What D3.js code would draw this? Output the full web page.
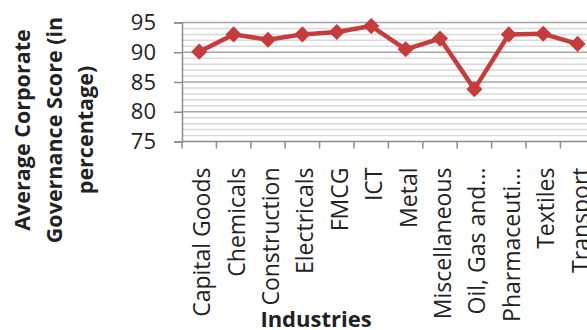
<!DOCTYPE html>
<html>
  <head>
    <meta charset="utf-8">
    <title>Corporate Governance Score by Industry</title>
    <script src="https://d3js.org/d3.v7.min.js"></script>
    <style>
      body { margin: 0; background: #fff; }
      text { font-family: "Open Sans", sans-serif; fill: #222; }
    </style>
  </head>
  <body>
    <svg id="chart" width="587" height="330"></svg>
    <script>
// chart data
var industries = ["Capital Goods", "Chemicals", "Construction", "Electricals", "FMCG", "ICT",
  "Metal", "Miscellaneous", "Oil, Gas and...", "Pharmaceuti...", "Textiles", "Transport"];
var scores = [90.1, 93.0, 92.1, 93.0, 93.4, 94.4, 90.5, 92.3, 83.8, 93.0, 93.1, 91.4];
var majorTicks = [75, 80, 85, 90, 95];
var minorTicks = [76, 77, 78, 79, 81, 82, 83, 84, 86, 87, 88, 89, 91, 92, 93, 94];
var yTitle = ["Average Corporate", "Governance Score (in", "percentage)"];
var xTitle = "Industries";

var svg = d3.select("#chart");

// plot area (runs past the right edge, like the original crop)
var plotLeft = 182, plotTop = 22.5, plotBottom = 141.5, step = 34.4;

var x = d3.scaleBand()
  .domain(industries)
  .range([plotLeft, plotLeft + step * industries.length])
  .padding(0);

var y = d3.scaleLinear()
  .domain([75, 95])
  .range([plotBottom, plotTop]);

var plotRight = x.range()[1];

// minor gridlines
svg.append("g")
  .selectAll("line")
  .data(minorTicks)
  .enter().append("line")
  .attr("x1", plotLeft).attr("x2", plotRight)
  .attr("y1", d => y(d)).attr("y2", d => y(d))
  .attr("stroke", "#d9d9d9")
  .attr("stroke-width", 1.5);

// major gridlines
svg.append("g")
  .selectAll("line")
  .data(majorTicks.slice(1))
  .enter().append("line")
  .attr("x1", plotLeft).attr("x2", plotRight)
  .attr("y1", d => y(d)).attr("y2", d => y(d))
  .attr("stroke", "#a6a6a6")
  .attr("stroke-width", 1.5);

// y axis
var yAxis = svg.append("g")
  .attr("transform", "translate(" + plotLeft + ",0)")
  .call(d3.axisLeft(y).tickValues(majorTicks).tickSize(8).tickPadding(18));
yAxis.select(".domain").attr("stroke", "#8c8c8c").attr("stroke-width", 1.5);
yAxis.selectAll(".tick line").attr("stroke", "#8c8c8c").attr("stroke-width", 1.5);
yAxis.selectAll("text")
  .style("font-family", "'Open Sans', sans-serif")
  .style("font-size", "22px")
  .attr("fill", "#333");

// x axis: ticks between categories
var xAxis = svg.append("g")
  .attr("transform", "translate(0," + plotBottom + ")");
xAxis.append("line")
  .attr("x1", plotLeft).attr("x2", plotRight)
  .attr("stroke", "#8c8c8c").attr("stroke-width", 1.5);
xAxis.selectAll(".tk")
  .data(industries)
  .enter().append("line")
  .attr("class", "tk")
  .attr("x1", d => x(d)).attr("x2", d => x(d))
  .attr("y1", 0).attr("y2", 7)
  .attr("stroke", "#8c8c8c").attr("stroke-width", 1.5);
xAxis.selectAll(".lbl")
  .data(industries)
  .enter().append("text")
  .attr("class", "lbl")
  .attr("transform", d => "translate(" + (x(d) + x.bandwidth() / 2 + 3) + ",26) rotate(-90)")
  .attr("text-anchor", "end")
  .attr("dy", "0.35em")
  .style("font-size", "23px")
  .text(d => d);

// series line
var line = d3.line()
  .x((d, i) => x(industries[i]) + x.bandwidth() / 2)
  .y(d => y(d));

svg.append("path")
  .datum(scores)
  .attr("d", line)
  .attr("fill", "none")
  .attr("stroke", "#c63c3c")
  .attr("stroke-width", 4.5)
  .attr("stroke-linejoin", "round");

// diamond markers
svg.append("g")
  .selectAll("path")
  .data(scores)
  .enter().append("path")
  .attr("d", d3.symbol().type(d3.symbolSquare).size(130))
  .attr("transform", (d, i) => "translate(" + (x(industries[i]) + x.bandwidth() / 2) + "," + y(d) + ") rotate(45)")
  .attr("fill", "#c63c3c");

// axis titles
svg.append("g")
  .selectAll("text")
  .data(yTitle)
  .enter().append("text")
  .attr("transform", (d, i) => "translate(" + (30 + i * 31.5) + ",130) rotate(-90)")
  .attr("text-anchor", "middle")
  .style("font-size", "21.5px")
  .style("font-weight", "bold")
  .text(d => d);

svg.append("text")
  .attr("x", 316)
  .attr("y", 327)
  .attr("text-anchor", "middle")
  .style("font-size", "22px")
  .style("font-weight", "bold")
  .text(xTitle);
    </script>
  </body>
</html>
